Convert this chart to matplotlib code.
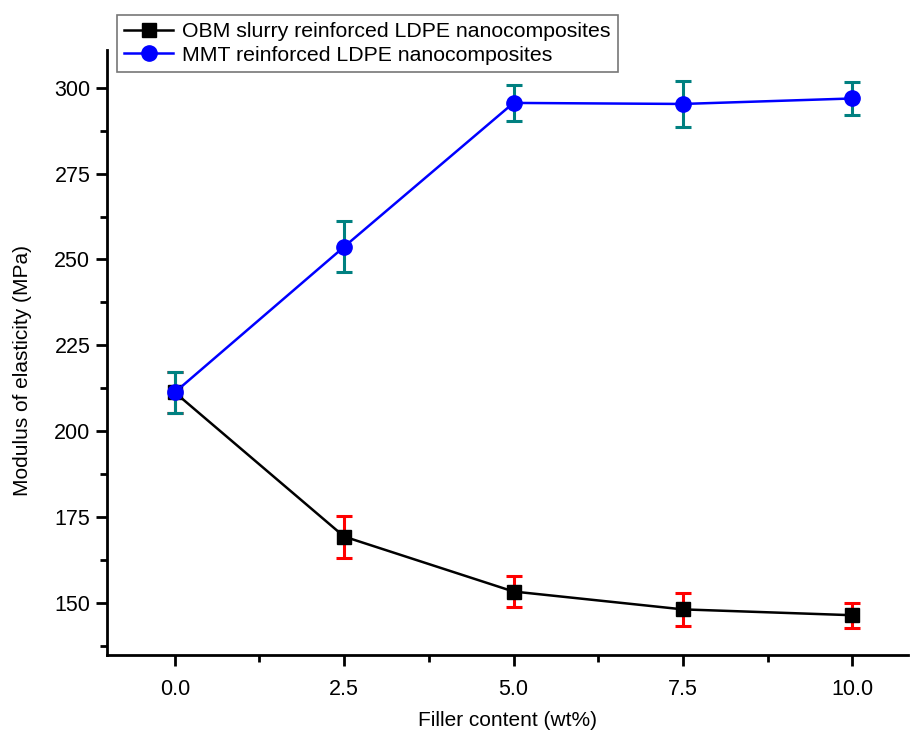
import matplotlib.pyplot as plt
from matplotlib.ticker import MultipleLocator

plt.rcParams['font.family'] = ['Liberation Sans', 'DejaVu Sans']

# Filler content (wt%)
filler = [0.0, 2.5, 5.0, 7.5, 10.0]

# OBM slurry reinforced LDPE
obm_mod = [211.3, 169.3, 153.3, 148.1, 146.4]
obm_err = [6.0, 6.1, 4.4, 4.7, 3.6]

# MMT reinforced LDPE
mmt_mod = [211.3, 253.7, 295.6, 295.3, 296.9]
mmt_err = [6.0, 7.4, 5.2, 6.6, 4.9]

fig = plt.figure(figsize=(9.10, 7.36), dpi=100)
ax = fig.add_axes([0.1176, 0.110, 0.880, 0.822])

obm = ax.errorbar(filler, obm_mod, yerr=obm_err, color='black', lw=1.8,
                  marker='s', ms=10, mfc='black', mec='black',
                  ecolor='red', elinewidth=2.2, capsize=6, capthick=2.2, zorder=3)
mmt = ax.errorbar(filler, mmt_mod, yerr=mmt_err, color='#0000ff', lw=1.8,
                  marker='o', ms=11, mfc='#0000ff', mec='#0000ff',
                  ecolor='#008080', elinewidth=2.2, capsize=6, capthick=2.2, zorder=4)

ax.set_xlim(-1.0, 10.82)
ax.set_ylim(134.8, 311)
ax.xaxis.set_major_locator(MultipleLocator(2.5))
ax.xaxis.set_minor_locator(MultipleLocator(1.25))
ax.yaxis.set_major_locator(MultipleLocator(25))
ax.yaxis.set_minor_locator(MultipleLocator(12.5))
ax.set_xticklabels([f'{v:.1f}' for v in ax.get_xticks()])

for side in ['top', 'right']:
    ax.spines[side].set_visible(False)
for side in ['left', 'bottom']:
    ax.spines[side].set_linewidth(2)

ax.tick_params(which='major', direction='out', length=8, width=2, labelsize=15.5, pad=4)
ax.tick_params(which='minor', direction='out', length=5, width=2)
ax.tick_params(axis='x', which='major', pad=9)

ax.set_xlabel('Filler content (wt%)', fontsize=15, labelpad=8)
ax.set_ylabel('Modulus of elasticity (MPa)', fontsize=15, labelpad=16, y=0.47)

# legend shows only line + marker, not the error bars
leg = ax.legend([obm[0], mmt[0]],
                ['OBM slurry reinforced LDPE nanocomposites',
                 'MMT reinforced LDPE nanocomposites'],
                loc='upper left', bbox_to_anchor=(117 / 910, 1 - 15 / 736),
                bbox_transform=fig.transFigure, fontsize=15.3, frameon=True,
                fancybox=False, edgecolor='#555555', handlelength=2.3,
                handletextpad=0.4, borderpad=0.35, labelspacing=0.2,
                borderaxespad=0)
leg.get_frame().set_linewidth(1.2)

fig.savefig('out.png', dpi=100)
